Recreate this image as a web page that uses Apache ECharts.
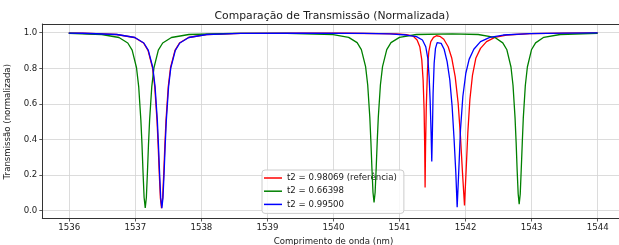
<!DOCTYPE html>
<html>
<head>
<meta charset="utf-8">
<script src="https://cdn.jsdelivr.net/npm/echarts@6/dist/echarts.min.js"></script>
<style>
html,body{margin:0;padding:0;background:#fff;overflow:hidden;}
#c{width:619px;height:245px;}
</style>
</head>
<body>
<div id="c"></div>
<script>
const chartTitle = 'Comparação de Transmissão (Normalizada)';
const xAxisName = 'Comprimento de onda (nm)';
const yAxisName = 'Transmissão (normalizada)';
const seriesNames = ['t2 = 0.98069 (referência)', 't2 = 0.66398', 't2 = 0.99500'];
const seriesColors = ['#ff0000', '#008000', '#0000ff'];
const xTicks = [1536, 1537, 1538, 1539, 1540, 1541, 1542, 1543, 1544];
const yTicks = [0.0, 0.2, 0.4, 0.6, 0.8, 1.0];

const redWavelength = [1536.0, 1536.203, 1536.723, 1536.995, 1537.131, 1537.199, 1537.267, 1537.301, 1537.335, 1537.352, 1537.369, 1537.386, 1537.403, 1537.420, 1537.437, 1537.454, 1537.471, 1537.505, 1537.539, 1537.607, 1537.675, 1537.811, 1538.083, 1538.6, 1539.5,
  1540.2, 1540.704, 1540.956, 1541.108, 1541.209, 1541.269, 1541.310, 1541.340, 1541.360, 1541.375, 1541.384, 1541.390, 1541.397, 1541.408, 1541.426, 1541.446, 1541.476, 1541.517, 1541.562, 1541.612, 1541.673, 1541.739, 1541.794, 1541.845, 1541.890, 1541.925, 1541.956, 1541.986, 1542.011, 1542.036, 1542.067, 1542.107, 1542.157, 1542.228, 1542.319, 1542.445, 1542.622, 1542.975, 1543.5, 1544.0];
const redTransmission = [0.998, 0.997, 0.990, 0.973, 0.942, 0.901, 0.803, 0.696, 0.507, 0.368, 0.210, 0.071, 0.013, 0.071, 0.210, 0.368, 0.507, 0.696, 0.803, 0.901, 0.942, 0.973, 0.990, 0.996, 0.998,
  0.997, 0.995, 0.993, 0.989, 0.981, 0.959, 0.921, 0.847, 0.734, 0.566, 0.360, 0.129, 0.360, 0.584, 0.790, 0.893, 0.950, 0.974, 0.983, 0.980, 0.963, 0.921, 0.856, 0.753, 0.603, 0.416, 0.210, 0.028, 0.229, 0.435, 0.622, 0.762, 0.856, 0.912, 0.950, 0.974, 0.987, 0.995, 0.998, 0.999];

const greenWavelength = [1536.0, 1536.5, 1536.76, 1536.893, 1536.959, 1537.025, 1537.058, 1537.091, 1537.108, 1537.124, 1537.140, 1537.157, 1537.174, 1537.190, 1537.206, 1537.223, 1537.256, 1537.289, 1537.355, 1537.421, 1537.553, 1537.817, 1538.5, 1539.3, 1540.0,
  1540.234, 1540.362, 1540.426, 1540.490, 1540.522, 1540.554, 1540.570, 1540.586, 1540.602, 1540.618, 1540.634, 1540.650, 1540.666, 1540.682, 1540.714, 1540.746, 1540.810, 1540.874, 1541.002, 1541.258, 1541.8,
  1542.193, 1542.441, 1542.565, 1542.627, 1542.689, 1542.720, 1542.751, 1542.767, 1542.782, 1542.798, 1542.813, 1542.829, 1542.844, 1542.860, 1542.875, 1542.906, 1542.937, 1542.999, 1543.061, 1543.185, 1543.433, 1544.0];
const greenTransmission = [0.997, 0.990, 0.973, 0.942, 0.902, 0.803, 0.697, 0.508, 0.370, 0.212, 0.073, 0.015, 0.073, 0.212, 0.370, 0.508, 0.697, 0.803, 0.902, 0.942, 0.973, 0.990, 0.996, 0.996, 0.989,
  0.974, 0.944, 0.905, 0.809, 0.706, 0.523, 0.389, 0.236, 0.101, 0.045, 0.101, 0.236, 0.389, 0.523, 0.706, 0.809, 0.905, 0.944, 0.974, 0.990, 0.993,
  0.990, 0.974, 0.943, 0.904, 0.807, 0.703, 0.518, 0.383, 0.229, 0.093, 0.036, 0.093, 0.229, 0.383, 0.518, 0.703, 0.807, 0.904, 0.943, 0.974, 0.990, 0.997];

const blueWavelength = [1536.0, 1536.208, 1536.728, 1537.000, 1537.136, 1537.204, 1537.272, 1537.306, 1537.340, 1537.357, 1537.374, 1537.391, 1537.408, 1537.425, 1537.442, 1537.459, 1537.476, 1537.510, 1537.544, 1537.612, 1537.680, 1537.816, 1538.088, 1538.6, 1539.5,
  1540.452, 1540.855, 1541.108, 1541.259, 1541.350, 1541.400, 1541.431, 1541.451, 1541.466, 1541.481, 1541.491, 1541.501, 1541.511, 1541.527, 1541.547, 1541.572, 1541.597, 1541.633, 1541.678, 1541.723, 1541.764, 1541.799, 1541.829, 1541.855, 1541.875, 1541.900, 1541.925, 1541.961, 1542.006, 1542.056, 1542.127, 1542.228, 1542.369, 1542.571, 1542.975, 1543.5, 1544.0];
const blueTransmission = [0.998, 0.997, 0.990, 0.973, 0.942, 0.901, 0.803, 0.696, 0.507, 0.368, 0.210, 0.071, 0.013, 0.071, 0.210, 0.368, 0.507, 0.696, 0.803, 0.901, 0.942, 0.973, 0.990, 0.996, 0.998,
  0.996, 0.993, 0.987, 0.978, 0.959, 0.921, 0.856, 0.753, 0.622, 0.435, 0.275, 0.453, 0.659, 0.828, 0.912, 0.944, 0.950, 0.940, 0.907, 0.837, 0.734, 0.584, 0.397, 0.210, 0.019, 0.229, 0.453, 0.641, 0.772, 0.850, 0.907, 0.950, 0.974, 0.987, 0.995, 0.998, 0.999];

function zip(xs, ys) {
  const n = Math.min(xs.length, ys.length);
  const out = [];
  for (let i = 0; i < n; i++) out.push([xs[i], ys[i]]);
  return out;
}

const FONT = 'DejaVu Sans';
const TEXT = '#1a1a1a';
const GRIDC = '#d3d3d3';
const SPINE = {show: true, onZero: false, lineStyle: {color: '#333333', width: 1}};

const chart = echarts.init(document.getElementById('c'), null, {renderer: 'canvas', width: 619, height: 245});

const option = {
  animation: false,
  backgroundColor: '#ffffff',
  title: {
    text: chartTitle,
    left: 327,
    top: 6,
    textAlign: 'center',
    textStyle: {fontFamily: FONT, fontSize: 10.8, fontWeight: 'normal', color: TEXT}
  },
  legend: {
    data: seriesNames,
    orient: 'vertical',
    left: 262,
    top: 170,
    itemWidth: 18,
    itemHeight: 1.5,
    itemGap: 3.2,
    icon: 'rect',
    padding: [3, 7, 4, 2],
    backgroundColor: 'rgba(255,255,255,0.8)',
    borderColor: '#cccccc',
    borderWidth: 1,
    borderRadius: 3,
    textStyle: {fontFamily: FONT, fontSize: 8.6, color: TEXT, lineHeight: 10}
  },
  grid: [
    {left: 42.3, width: 581.8, top: 24, bottom: 26.5, containLabel: false, outerBoundsMode: 'none'},
    {left: 69.3, width: 528.4, top: 24, bottom: 26.5, containLabel: false, outerBoundsMode: 'none'},
    {left: 42.3, width: 581.8, top: 32.7, bottom: 34.3, containLabel: false, outerBoundsMode: 'none'}
  ],
  xAxis: [
    {gridIndex: 0, type: 'value', min: 1535.6, max: 1544.4, position: 'bottom',
      axisLine: SPINE, axisTick: {show: false}, axisLabel: {show: false}, splitLine: {show: false}},
    {gridIndex: 1, type: 'value', min: xTicks[0], max: xTicks[xTicks.length - 1], interval: 1,
      name: xAxisName, nameLocation: 'middle', nameGap: 18,
      nameTextStyle: {fontFamily: FONT, fontSize: 8.6, color: TEXT},
      axisLine: {show: false},
      axisTick: {show: true, length: 3, lineStyle: {color: '#333', width: 0.8}},
      axisLabel: {margin: 5, fontFamily: FONT, fontSize: 8.6, color: TEXT, formatter: v => String(Math.round(v))},
      splitLine: {show: true, lineStyle: {color: GRIDC, width: 0.8}}},
    {gridIndex: 2, type: 'value', min: 1535.6, max: 1544.4, show: false},
    {gridIndex: 0, type: 'value', min: 1535.6, max: 1544.4, position: 'top',
      axisLine: SPINE, axisTick: {show: false}, axisLabel: {show: false}, splitLine: {show: false}}
  ],
  yAxis: [
    {gridIndex: 0, type: 'value', min: -0.045, max: 1.049, position: 'left',
      axisLine: SPINE, axisTick: {show: false}, axisLabel: {show: false}, splitLine: {show: false}},
    {gridIndex: 1, type: 'value', min: 0, max: 1, show: false},
    {gridIndex: 2, type: 'value', min: yTicks[0], max: yTicks[yTicks.length - 1], interval: 0.2,
      name: yAxisName, nameLocation: 'middle', nameGap: 22,
      nameTextStyle: {fontFamily: FONT, fontSize: 8.6, color: TEXT},
      axisLine: {show: false},
      axisTick: {show: true, length: 3, lineStyle: {color: '#333', width: 0.8}},
      axisLabel: {margin: 5, fontFamily: FONT, fontSize: 8.6, color: TEXT, formatter: v => v.toFixed(1)},
      splitLine: {show: true, lineStyle: {color: GRIDC, width: 0.8}}}
  ],
  series: [
    {name: seriesNames[0], type: 'line', xAxisIndex: 0, yAxisIndex: 0, data: zip(redWavelength, redTransmission),
      showSymbol: false, symbol: 'none', lineStyle: {color: seriesColors[0], width: 1.3}, itemStyle: {color: seriesColors[0]}, z: 3},
    {name: seriesNames[1], type: 'line', xAxisIndex: 0, yAxisIndex: 0, data: zip(greenWavelength, greenTransmission),
      showSymbol: false, symbol: 'none', lineStyle: {color: seriesColors[1], width: 1.3}, itemStyle: {color: seriesColors[1]}, z: 4},
    {name: seriesNames[2], type: 'line', xAxisIndex: 0, yAxisIndex: 0, data: zip(blueWavelength, blueTransmission),
      showSymbol: false, symbol: 'none', lineStyle: {color: seriesColors[2], width: 1.3}, itemStyle: {color: seriesColors[2]}, z: 5}
  ]
};
chart.setOption(option);
</script>
</body>
</html>
